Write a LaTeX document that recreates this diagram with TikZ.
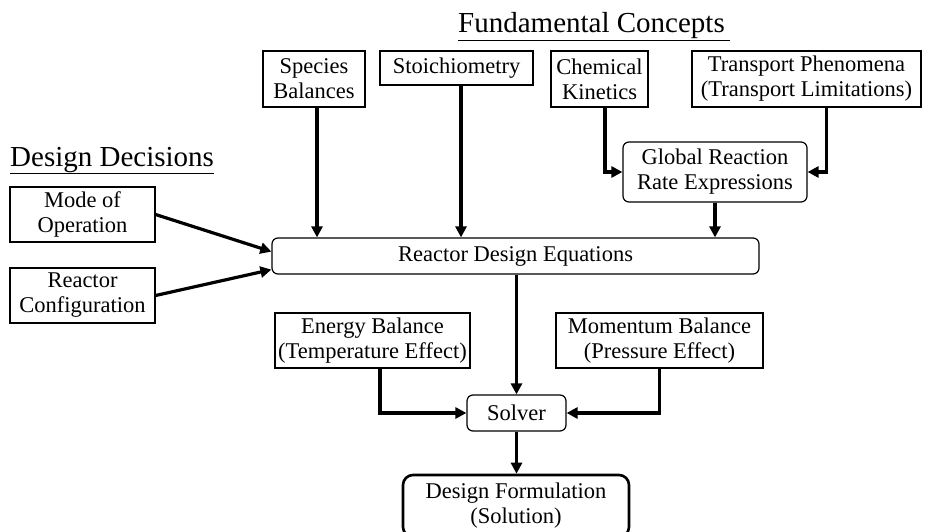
\documentclass[tikz,border=0pt]{standalone}
\usepackage{fontspec}
\setmainfont{Liberation Serif}
\usetikzlibrary{arrows.meta}
\tikzset{
  box/.style={draw, line width=1.2pt, inner sep=0pt, align=center, font=\fontsize{22.5}{25}\selectfont},
  rbox/.style={box, rounded corners=6pt},
  fbox/.style={box, rounded corners=10pt, line width=2.6pt},
  arr/.style={line width=3.2pt, -{Triangle[length=11pt,width=11pt]}},
  ttl/.style={inner sep=0pt, font=\fontsize{29}{32}\selectfont},
}
\begin{document}
\begin{tikzpicture}[x=1pt,y=-1pt]
\useasboundingbox (0,0) rectangle (925,532);
\clip (0,0) rectangle (925,532);
\fill[white] (0,0) rectangle (925,532);
\node[ttl, anchor=base west] (fc) at (458,33) {\underline{Fundamental Concepts\kern5pt}};
\node[ttl, anchor=base west] (dd) at (10,166) {\underline{Design Decisions}};
\node[box, minimum width=102pt, minimum height=56pt] (spec) at (314,79) {Species\\Balances};
\node[box, minimum width=153pt, minimum height=34pt] (stoich) at (456.5,68) {Stoichiometry};
\node[box, minimum width=97pt, minimum height=56pt] (chem) at (599.5,79) {Chemical\\Kinetics};
\node[box, minimum width=229pt, minimum height=56pt] (trans) at (806.5,79) {Transport Phenomena\\(Transport Limitations)};
\node[rbox, minimum width=184pt, minimum height=60pt] (grre) at (715,172) {Global Reaction\\Rate Expressions};
\node[box, minimum width=145pt, minimum height=55pt] (mode) at (82.5,214.5) {Mode of\\Operation};
\node[box, minimum width=145pt, minimum height=55pt] (conf) at (82.5,295.5) {Reactor\\Configuration};
\node[rbox, minimum width=487pt, minimum height=36pt] (rde) at (515.5,256) {Reactor Design Equations};
\node[box, minimum width=195pt, minimum height=55pt] (en) at (372.5,340.5) {Energy Balance\\(Temperature Effect)};
\node[box, minimum width=207pt, minimum height=55pt] (mom) at (659.5,340.5) {Momentum Balance\\(Pressure Effect)};
\node[rbox, minimum width=99pt, minimum height=36pt] (solver) at (516.5,413) {Solver};
\node[fbox, minimum width=226pt, minimum height=62pt] (df) at (516,506) {Design Formulation\\(Solution)};
% arrows
\draw[arr] ([xshift=3pt]spec.south) -- ([xshift=3pt]spec.south |- rde.north);
\draw[arr] ([xshift=4.5pt]stoich.south) -- ([xshift=4.5pt]stoich.south |- rde.north);
\draw[arr] ([xshift=5.5pt]chem.south) |- (grre.west);
\draw[arr] ([xshift=20pt]trans.south) |- (grre.east);
\draw[arr] (grre.south) -- (grre.south |- rde.north);
\draw[arr] (mode.east) -- ([yshift=23pt]rde.south west);
\draw[arr] (conf.east) -- ([yshift=5pt]rde.south west);
\draw[arr] ([xshift=1pt]rde.south) -- ([xshift=1pt]rde.south |- solver.north);
\draw[arr] ([xshift=7.5pt]en.south) |- (solver.west);
\draw[arr] (mom.south) |- (solver.east);
\draw[arr] (solver.south) -- (solver.south |- df.north);
\end{tikzpicture}
\end{document}
